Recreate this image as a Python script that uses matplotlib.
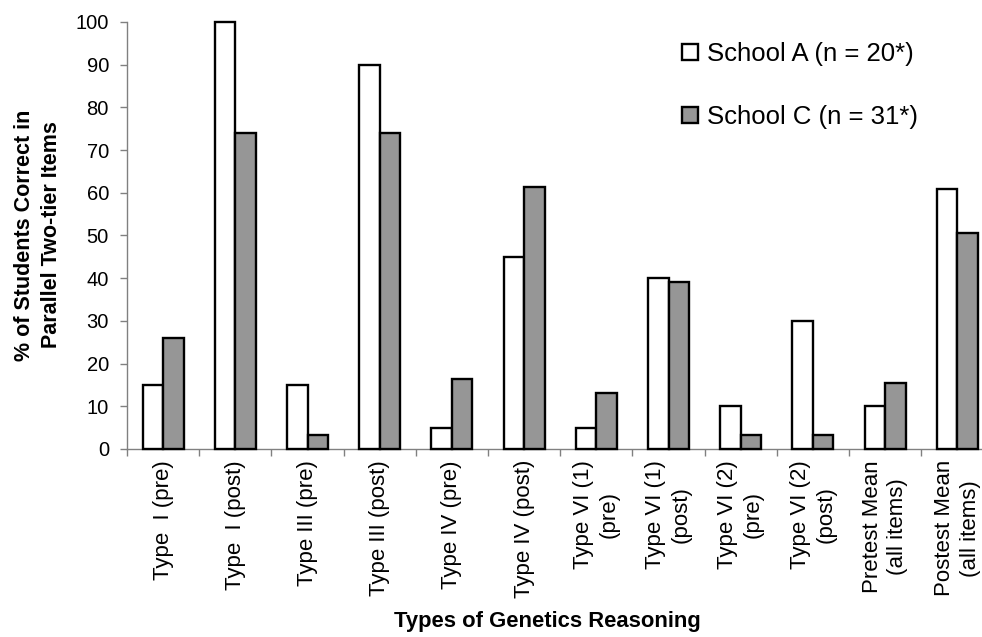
import numpy as np
from matplotlib import pyplot as plt
from matplotlib.ticker import FixedLocator

plt.rcParams['font.family'] = ['Liberation Sans', 'DejaVu Sans']

categories = [
    "Type  I (pre)", "Type  I (post)", "Type III (pre)", "Type III (post)",
    "Type IV (pre)", "Type IV (post)", "Type VI (1)\n(pre)", "Type VI (1)\n(post)",
    "Type VI (2)\n(pre)", "Type VI (2)\n(post)", "Pretest Mean\n(all items)",
    "Postest Mean\n(all items)",
]
school_a = [15, 100, 15, 90, 5, 45, 5, 40, 10, 30, 10, 61]
school_c = [26, 74, 3.2, 74, 16.3, 61.3, 13, 39, 3.2, 3.2, 15.5, 50.5]
legend_labels = ["School A (n = 20*)", "School C (n = 31*)"]

fig = plt.figure(figsize=(9.82, 6.37), dpi=100)
ax = fig.add_axes([127/982, 1 - 449/637, 855/982, 427/637])

x = np.arange(len(categories))
w = 0.285
ba = ax.bar(x - w/2, school_a, w, color="white", edgecolor="black", linewidth=1.7,
            label=legend_labels[0], clip_on=False, zorder=3)
bc = ax.bar(x + w/2, school_c, w, color="#969696", edgecolor="black", linewidth=1.7,
            label=legend_labels[1], clip_on=False, zorder=3)

ax.set_xlim(-0.5, -0.5 + 855/72.2)
ax.set_ylim(0, 100)
ax.set_yticks(range(0, 101, 10))
ax.tick_params(axis='y', labelsize=14.5, length=5, width=1, color="#808080", pad=8)

# labels at centres, tick marks at the category borders
ax.set_xticks(x)
ax.set_xticklabels(categories, rotation=90, fontsize=16, multialignment='center',
                   va='top', linespacing=1.3)
ax.tick_params(axis='x', which='major', length=0, pad=8)
ax.xaxis.set_minor_locator(FixedLocator(np.arange(len(categories) + 1) - 0.5))
ax.tick_params(axis='x', which='minor', length=5, width=1, color="#808080")

for s in ["top", "right"]:
    ax.spines[s].set_visible(False)
for s in ["left", "bottom"]:
    ax.spines[s].set_color("#808080")
    ax.spines[s].set_linewidth(1)

fig.text(38/982, 1 - 235/637, "% of Students Correct in\nParallel Two-tier Items",
         rotation=90, ha='center', va='center', fontsize=15.5, fontweight='bold',
         multialignment='center', linespacing=1.35)
fig.text(547/982, 1 - 621/637, "Types of Genetics Reasoning",
         ha='center', va='center', fontsize=15.8, fontweight='bold')

ax.legend(handles=[ba, bc], loc='upper left', bbox_to_anchor=(672/982, 1 - 32/637),
          bbox_transform=fig.transFigure, frameon=False, fontsize=18.5,
          handlelength=0.6, handleheight=0.6, handletextpad=0.35, labelspacing=1.5,
          borderaxespad=0)

fig.savefig("out.png", dpi=100)
